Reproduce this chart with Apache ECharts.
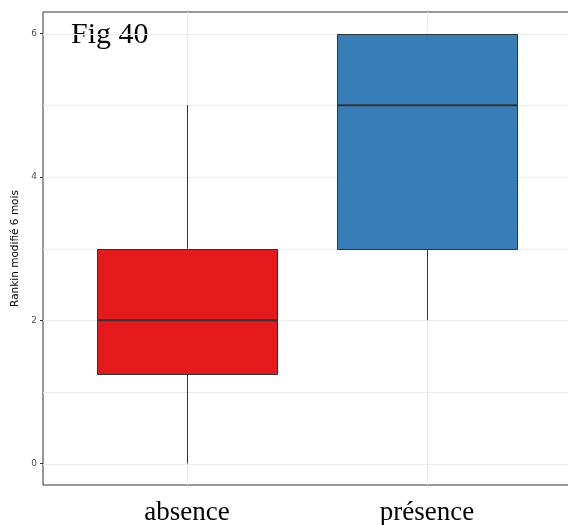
<!DOCTYPE html>
<html>
<head>
<meta charset="utf-8">
<script src="https://cdn.jsdelivr.net/npm/echarts@6/dist/echarts.min.js"></script>
<style>html,body{margin:0;padding:0;background:#fff;}#c{width:568px;height:525px;}</style>
</head>
<body>
<div id="c"></div>
<script>
var categories = ['absence', 'présence'];
var whiskerLow = [0, 2];
var q1 = [1.25, 3];
var median = [2, 5];
var q3 = [3, 6];
var whiskerHigh = [5, 6];
var boxColors = ['#E41A1C', '#377EB8'];
var yTicks = [0, 2, 4, 6];
var yMinor = [1, 3, 5];
var yTitle = 'Rankin modifié 6 mois';
var figLabel = 'Fig 40';

var chart = echarts.init(document.getElementById('c'), null, {renderer: 'canvas'});

var boxData = categories.map(function (c, i) {
  return [i + 1, whiskerLow[i], q1[i], median[i], q3[i], whiskerHigh[i]];
});
var gridData = yTicks.concat(yMinor).map(function (v) { return [v]; });
var vGridData = categories.map(function (c, i) { return [i + 1]; });

var YMIN = -0.3, YMAX = 6.3, XMIN = 0.4, XMAX = 2.6;

option = {
  animation: false,
  backgroundColor: '#fff',
  grid: {left: 43, top: 12, width: 528, bottom: 40, show: true, borderColor: '#333333', borderWidth: 1,
    backgroundColor: 'transparent', containLabel: false, outerBoundsMode: 'none'},
  xAxis: {
    type: 'value', min: XMIN, max: XMAX,
    axisLine: {show: false},
    splitLine: {show: false},
    axisTick: {show: true, length: 3, lineStyle: {color: '#333'}, customValues: [1, 2]},
    axisLabel: {
      customValues: [1, 2],
      formatter: function (v) { return categories[Math.round(v) - 1] || ''; },
      fontFamily: 'Liberation Serif', fontSize: 27, color: '#000', margin: 14
    }
  },
  yAxis: {
    type: 'value', min: YMIN, max: YMAX,
    name: yTitle, nameLocation: 'middle', nameGap: 19,
    nameTextStyle: {fontFamily: 'DejaVu Sans', fontSize: 10.5, color: '#000'},
    axisLine: {show: false},
    splitLine: {show: false},
    axisTick: {show: true, length: 3, lineStyle: {color: '#333'}, customValues: yTicks},
    axisLabel: {customValues: yTicks, fontFamily: 'DejaVu Sans', fontSize: 9, color: '#4d4d4d', margin: 6}
  },
  graphic: [{
    type: 'text', left: 71, top: 20,
    style: {text: figLabel, font: '30px "Liberation Serif"', fill: '#000'}
  }],
  series: [
    {
      type: 'custom', z: 1, silent: true,
      data: gridData,
      renderItem: function (params, api) {
        var v = api.value(0);
        var a = api.coord([XMIN, v]);
        var b = api.coord([XMAX, v]);
        var y = Math.round(a[1]) + 0.5;
        return {type: 'line', shape: {x1: a[0], y1: y, x2: b[0], y2: y}, style: {stroke: '#ebebeb', lineWidth: 1}};
      }
    },
    {
      type: 'custom', z: 1, silent: true,
      data: vGridData,
      renderItem: function (params, api) {
        var x = api.value(0);
        var a = api.coord([x, YMIN]);
        var b = api.coord([x, YMAX]);
        var xx = Math.round(a[0]) + 0.5;
        return {type: 'line', shape: {x1: xx, y1: a[1], x2: xx, y2: b[1]}, style: {stroke: '#ebebeb', lineWidth: 1}};
      }
    },
    {
      type: 'custom', z: 2,
      data: boxData,
      renderItem: function (params, api) {
        var x = api.value(0);
        var lo = api.value(1), b1 = api.value(2), md = api.value(3), b3 = api.value(4), hi = api.value(5);
        var half = 0.375;
        var pl = api.coord([x - half, b3]);
        var pr = api.coord([x + half, b1]);
        var c = api.coord([x, lo]);
        var cTop = api.coord([x, hi]);
        var pq1 = api.coord([x, b1]);
        var pq3 = api.coord([x, b3]);
        var pm = api.coord([x, md]);
        var xc = Math.round(c[0]) + 0.5;
        var idx = params.dataIndex;
        var children = [
          {type: 'line', shape: {x1: xc, y1: c[1], x2: xc, y2: pq1[1]}, style: {stroke: '#333', lineWidth: 1}},
          {type: 'line', shape: {x1: xc, y1: cTop[1], x2: xc, y2: pq3[1]}, style: {stroke: '#333', lineWidth: 1}},
          {type: 'rect', shape: {x: Math.round(pl[0]) + 0.5, y: Math.round(pl[1]) + 0.5, width: Math.round(pr[0] - pl[0]), height: Math.round(pr[1] - pl[1])},
            style: {fill: boxColors[idx], stroke: '#333', lineWidth: 1}},
          {type: 'line', shape: {x1: pl[0], y1: pm[1], x2: pr[0], y2: pm[1]}, style: {stroke: '#333', lineWidth: 2}}
        ];
        return {type: 'group', children: children};
      }
    }
  ]
};
chart.setOption(option);
</script>
</body>
</html>
